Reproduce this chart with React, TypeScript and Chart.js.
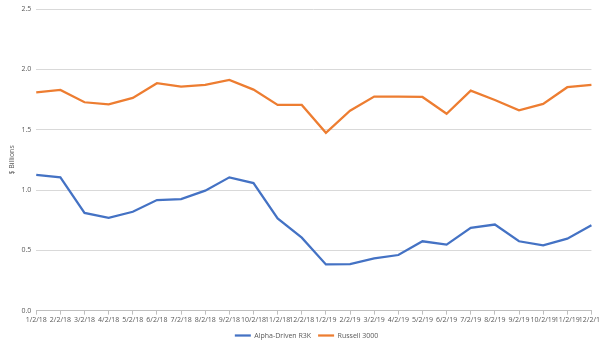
import React, { useEffect, useRef } from "react";
import { Chart, registerables } from "chart.js";

Chart.register(...registerables);

const categories = [
  "1/2/18", "2/2/18", "3/2/18", "4/2/18", "5/2/18", "6/2/18", "7/2/18", "8/2/18",
  "9/2/18", "10/2/18", "11/2/18", "12/2/18", "1/2/19", "2/2/19", "3/2/19", "4/2/19",
  "5/2/19", "6/2/19", "7/2/19", "8/2/19", "9/2/19", "10/2/19", "11/2/19", "12/2/19",
];

const alphaDriven = [
  1.125, 1.105, 0.81, 0.77, 0.82, 0.917, 0.925, 0.995, 1.105, 1.058, 0.764, 0.605,
  0.383, 0.386, 0.433, 0.461, 0.575, 0.547, 0.686, 0.714, 0.575, 0.542, 0.597, 0.708,
];

const russell3000 = [
  1.811, 1.83, 1.728, 1.711, 1.764, 1.886, 1.858, 1.872, 1.914, 1.833, 1.706, 1.706,
  1.475, 1.658, 1.775, 1.775, 1.772, 1.633, 1.825, 1.747, 1.661, 1.714, 1.853, 1.872,
];

const FONT = "'Open Sans', sans-serif";

export default function App() {
  const ref = useRef<HTMLCanvasElement | null>(null);

  useEffect(() => {
    if (!ref.current) return;
    const chart = new Chart(ref.current, {
      type: "line",
      data: {
        labels: categories,
        datasets: [
          {
            label: "Alpha-Driven R3K",
            data: alphaDriven,
            borderColor: "#4472C4",
            backgroundColor: "#4472C4",
            borderWidth: 2.25,
            pointRadius: 0,
            tension: 0,
          },
          {
            label: "Russell 3000",
            data: russell3000,
            borderColor: "#ED7D31",
            backgroundColor: "#ED7D31",
            borderWidth: 2.25,
            pointRadius: 0,
            tension: 0,
          },
        ],
      },
      options: {
        animation: false,
        responsive: false,
        maintainAspectRatio: false,
        layout: { padding: { top: 6, right: 0, left: 8, bottom: 0 } },
        plugins: {
          tooltip: { enabled: false },
          legend: {
            position: "bottom",
            labels: {
              usePointStyle: true,
              pointStyle: "line",
              pointStyleWidth: 16,
              boxHeight: 7,
              padding: 7,
              color: "#595959",
              font: { family: FONT, size: 7 },
            },
          },
        },
        scales: {
          x: {
            offset: false,
            grid: {
              display: true,
              drawOnChartArea: false,
              drawTicks: true,
              tickLength: 4,
              color: "#bfbfbf",
            },
            border: { display: true, color: "#bfbfbf" },
            ticks: {
              autoSkip: false,
              maxRotation: 0,
              minRotation: 0,
              padding: 1,
              color: "#595959",
              font: { family: FONT, size: 7 },
            },
          },
          y: {
            min: 0,
            max: 2.5,
            grid: { color: "#d9d9d9", drawTicks: false, lineWidth: 1 },
            border: { display: false },
            ticks: {
              stepSize: 0.5,
              padding: 5,
              color: "#595959",
              font: { family: FONT, size: 7 },
              callback: (v: any) => Number(v).toFixed(1),
            },
            title: {
              display: true,
              text: "$ Billions",
              color: "#595959",
              font: { family: FONT, size: 7 },
              padding: { top: 0, bottom: 0 },
            },
          },
        },
      },
    });
    return () => chart.destroy();
  }, []);

  return (
    <div style={{ position: "fixed", left: 0, top: 0, width: 600, height: 349, overflow: "hidden", background: "#fff" }}>
      <canvas ref={ref} width={605} height={349} style={{ display: "block" }} />
    </div>
  );
}
